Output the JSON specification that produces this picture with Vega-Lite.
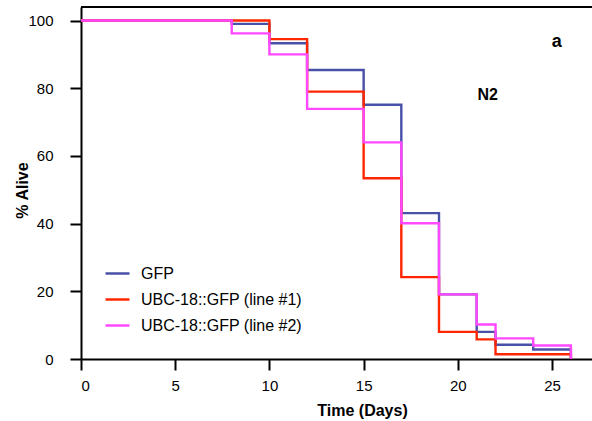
{
  "$schema": "https://vega.github.io/schema/vega-lite/v6.json",
  "width": 511,
  "height": 352,
  "autosize": "none",
  "padding": {"left": 81, "top": 7, "right": 0, "bottom": 62},
  "background": "white",
  "config": {
    "view": {"stroke": null},
    "font": "Liberation Sans",
    "axis": {
      "grid": false,
      "domainColor": "black",
      "domainWidth": 2,
      "domainOpacity": 1,
      "tickColor": "black",
      "tickWidth": 2,
      "tickOpacity": 1,
      "tickSize": 11,
      "labelFont": "Liberation Sans",
      "labelFontSize": 15,
      "labelColor": "black",
      "titleFont": "Liberation Sans",
      "titleFontSize": 16,
      "titleFontWeight": "bold",
      "titleColor": "black"
    },
    "legend": {
      "orient": "none",
      "legendX": 23,
      "legendY": 253,
      "padding": 0,
      "symbolType": "stroke",
      "symbolSize": 576,
      "symbolStrokeWidth": 2.5,
      "labelFont": "Liberation Sans",
      "labelFontSize": 16,
      "labelColor": "black",
      "labelOffset": 10,
      "rowPadding": 4,
      "labelLimit": 300
    }
  },
  "datasets": {
    "surv": [
      {"series": "GFP", "day": 0, "alive": 100},
      {"series": "GFP", "day": 8, "alive": 99},
      {"series": "GFP", "day": 10, "alive": 93.3},
      {"series": "GFP", "day": 12, "alive": 85.4},
      {"series": "GFP", "day": 15, "alive": 75.1},
      {"series": "GFP", "day": 17, "alive": 43.1},
      {"series": "GFP", "day": 19, "alive": 19.1},
      {"series": "GFP", "day": 21, "alive": 8.0},
      {"series": "GFP", "day": 22, "alive": 4.2},
      {"series": "GFP", "day": 24, "alive": 2.8},
      {"series": "GFP", "day": 26, "alive": 0},
      {"series": "UBC-18::GFP (line #1)", "day": 0, "alive": 100},
      {"series": "UBC-18::GFP (line #1)", "day": 10, "alive": 94.5},
      {"series": "UBC-18::GFP (line #1)", "day": 12, "alive": 79},
      {"series": "UBC-18::GFP (line #1)", "day": 15, "alive": 53.4},
      {"series": "UBC-18::GFP (line #1)", "day": 17, "alive": 24.2},
      {"series": "UBC-18::GFP (line #1)", "day": 19, "alive": 8.0},
      {"series": "UBC-18::GFP (line #1)", "day": 21, "alive": 5.8},
      {"series": "UBC-18::GFP (line #1)", "day": 22, "alive": 1.4},
      {"series": "UBC-18::GFP (line #1)", "day": 26, "alive": 0},
      {"series": "UBC-18::GFP (line #2)", "day": 0, "alive": 100},
      {"series": "UBC-18::GFP (line #2)", "day": 8, "alive": 96.2},
      {"series": "UBC-18::GFP (line #2)", "day": 10, "alive": 90},
      {"series": "UBC-18::GFP (line #2)", "day": 12, "alive": 73.9},
      {"series": "UBC-18::GFP (line #2)", "day": 15, "alive": 64},
      {"series": "UBC-18::GFP (line #2)", "day": 17, "alive": 40.1},
      {"series": "UBC-18::GFP (line #2)", "day": 19, "alive": 19.1},
      {"series": "UBC-18::GFP (line #2)", "day": 21, "alive": 10.2},
      {"series": "UBC-18::GFP (line #2)", "day": 22, "alive": 6.1},
      {"series": "UBC-18::GFP (line #2)", "day": 24, "alive": 4.0},
      {"series": "UBC-18::GFP (line #2)", "day": 26, "alive": 0}
    ]
  },
  "layer": [
    {
      "data": {"name": "surv"},
      "transform": [{"filter": "datum.series === 'GFP'"}],
      "mark": {"type": "line", "interpolate": "step-after", "strokeWidth": 2.4},
      "encoding": {
        "x": {
          "field": "day", "type": "quantitative",
          "scale": {"domain": [0, 27.12], "nice": false, "zero": false},
          "axis": {
            "title": "Time (Days)",
            "values": [0, 5, 10, 15, 20, 25],
            "labelPadding": 8,
            "titleX": 281,
            "titleY": 51,
            "titleAlign": "center",
            "titleBaseline": "middle"
          }
        },
        "y": {
          "field": "alive", "type": "quantitative",
          "scale": {"domain": [0, 104], "nice": false},
          "axis": {
            "title": "% Alive",
            "values": [0, 20, 40, 60, 80, 100],
            "labelPadding": 17,
            "titleX": -59,
            "titleY": 183,
            "titleAlign": "center",
            "titleBaseline": "middle",
            "encode": {"labels": {"update": {"dx": {"signal": "datum.value === 0 ? 8 : 0"}}}}
          }
        },
        "color": {
          "field": "series", "type": "nominal",
          "scale": {
            "domain": ["GFP", "UBC-18::GFP (line #1)", "UBC-18::GFP (line #2)"],
            "range": ["#4850A8", "#FF2600", "#FF48FF"]
          },
          "legend": {"title": null}
        }
      }
    },
    {
      "data": {"name": "surv"},
      "transform": [{"filter": "datum.series === 'UBC-18::GFP (line #1)'"}],
      "mark": {"type": "line", "interpolate": "step-after", "strokeWidth": 2.4},
      "encoding": {
        "x": {"field": "day", "type": "quantitative"},
        "y": {"field": "alive", "type": "quantitative"},
        "color": {"field": "series", "type": "nominal"}
      }
    },
    {
      "data": {"name": "surv"},
      "transform": [{"filter": "datum.series === 'UBC-18::GFP (line #2)'"}],
      "mark": {"type": "line", "interpolate": "step-after", "strokeWidth": 2.4},
      "encoding": {
        "x": {"field": "day", "type": "quantitative"},
        "y": {"field": "alive", "type": "quantitative"},
        "color": {"field": "series", "type": "nominal"}
      }
    },
    {
      "data": {"values": [{"edge": "top"}]},
      "mark": {"type": "rule", "color": "black", "strokeWidth": 2},
      "encoding": {"y": {"datum": 104}}
    },
    {
      "data": {"values": [{"label": "a", "day": 25.25, "alive": 93.8}]},
      "mark": {"type": "text", "font": "Liberation Sans", "fontSize": 18, "fontWeight": "bold", "color": "black", "align": "center", "baseline": "middle"},
      "encoding": {
        "x": {"field": "day", "type": "quantitative"},
        "y": {"field": "alive", "type": "quantitative"},
        "text": {"field": "label"}
      }
    },
    {
      "data": {"values": [{"label": "N2", "day": 21.58, "alive": 78.0}]},
      "mark": {"type": "text", "font": "Liberation Sans", "fontSize": 16, "fontWeight": "bold", "color": "black", "align": "center", "baseline": "middle"},
      "encoding": {
        "x": {"field": "day", "type": "quantitative"},
        "y": {"field": "alive", "type": "quantitative"},
        "text": {"field": "label"}
      }
    }
  ]
}
